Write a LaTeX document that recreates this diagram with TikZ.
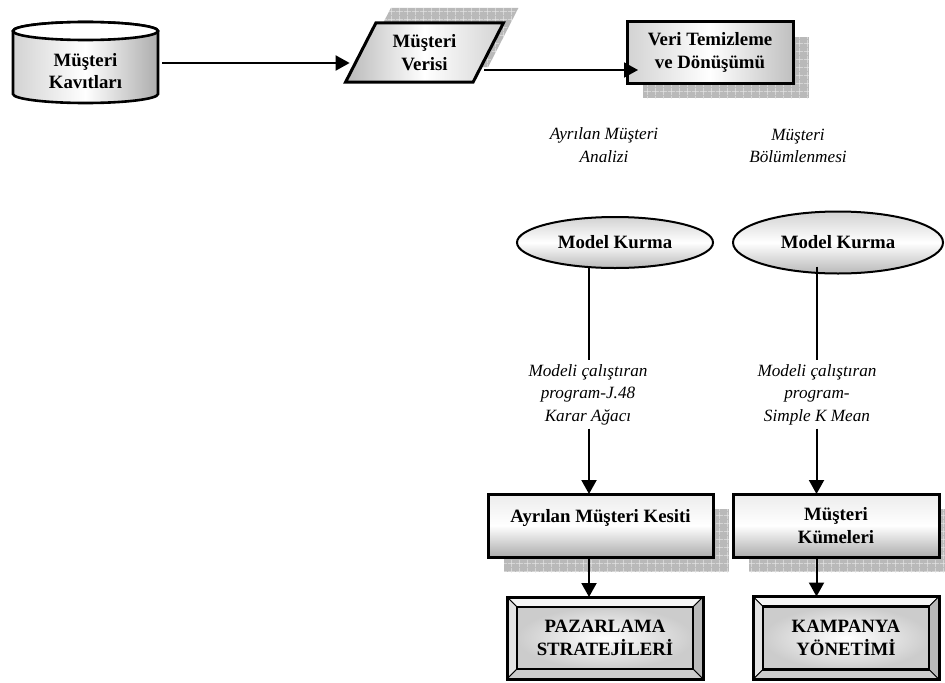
\documentclass[tikz,border=0pt]{standalone}
\usepackage{fontspec}
\setmainfont{Liberation Serif}
\usetikzlibrary{arrows.meta,shapes.geometric,positioning,shadows,patterns.meta,backgrounds,calc}

% bevelled frame drawn behind a named node
\newcommand{\bevelframe}[1]{%
  \begin{scope}[on background layer, line width=.8pt]
    \filldraw[fill=gray!8] (#1.north west) -- (#1.north east) -- ([shift={(-10,-10)}]#1.north east) -- ([shift={(10,-10)}]#1.north west) -- cycle;
    \filldraw[fill=gray!22] (#1.north west) -- ([shift={(10,-10)}]#1.north west) -- ([shift={(10,10)}]#1.south west) -- (#1.south west) -- cycle;
    \filldraw[fill=gray!55] (#1.north east) -- ([shift={(-10,-10)}]#1.north east) -- ([shift={(-10,10)}]#1.south east) -- (#1.south east) -- cycle;
    \filldraw[fill=gray!40] (#1.south west) -- ([shift={(10,10)}]#1.south west) -- ([shift={(-10,10)}]#1.south east) -- (#1.south east) -- cycle;
    \draw[line width=1.2pt, inner color=white, outer color=gray!40] ([shift={(10,-10)}]#1.north west) rectangle ([shift={(-10,10)}]#1.south east);
  \end{scope}}

\begin{document}
\begin{tikzpicture}[
  x=0.5pt, y=0.5pt,
  line width=1pt,
  >={Triangle[length=7pt,width=7.5pt]},
  every node/.style={outer sep=0pt, align=center},
  bold/.style={font=\fontsize{9.4}{11.2}\selectfont\bfseries},
  note/.style={font=\fontsize{8.6}{11.2}\selectfont\itshape, inner sep=2pt},
  grid shadow/.style 2 args={
    drop shadow={shadow xshift=#1, shadow yshift=#2, opacity=1, fill=gray!55},
    drop shadow={shadow xshift=#1, shadow yshift=#2, opacity=1,
      pattern={Hatch[angle=0,distance=4pt,line width=.35pt]}, pattern color=gray!20}},
  box/.style={bold, draw, line width=1.5pt, rectangle, grid shadow={8pt}{-7.5pt},
    top color=gray!15, bottom color=gray!65, middle color=white},
  oval/.style={bold, ellipse, draw, top color=gray!35, bottom color=gray!55, middle color=white},
  frame/.style={bold, draw, line width=1.5pt},
  ]
  \useasboundingbox (0,0) rectangle (945,682);

  \node[bold, minimum width=72.5pt, minimum height=32pt] (kayit) at (85.5,611) {Müşteri\\Kavıtları};
  \node[bold, trapezium, trapezium left angle=64, trapezium right angle=116, trapezium stretches=true,
    minimum width=79pt, minimum height=29.5pt, draw, line width=1.5pt,
    left color=gray!55, right color=gray!35, middle color=white, grid shadow={7.5pt}{7.5pt}] (veri) at (424.5,629.5) {Müşteri\\Verisi};
  \node[box, minimum width=83pt, minimum height=30.5pt,
    left color=gray!35, right color=gray!50, middle color=white] (temiz) at (710,629.5) {Veri Temizleme\\ve Dönüşümü};

  \node[note] (analiz) at (604,537) {Ayrılan Müşteri\\Analizi};
  \node[note] (bolum) at (798,536) {Müşteri\\Bölümlenmesi};

  \node[oval, minimum width=98pt, minimum height=25.5pt] (model1) at (615,439.5) {Model Kurma};
  \node[oval, minimum width=105pt, minimum height=31pt, right=10pt of model1] (model2) {Model Kurma};

  \coordinate (colA) at (589,0);
  \coordinate (colB) at (816.5,0);

  \node[note] (prog1) at (588,287.5) {Modeli çalıştıran\\program-J.48\\Karar Ağacı};
  \node[note] (prog2) at (817,287.5) {Modeli çalıştıran\\program-\\Simple K Mean};

  \node[box, minimum width=112.5pt, minimum height=31.5pt, text depth=10pt] (kesit) at (600.5,156.5) {Ayrılan Müşteri Kesiti};
  \node[box, minimum width=103pt, minimum height=31.5pt, right=10pt of kesit] (kume) {Müşteri\\Kümeleri};

  \node[frame, minimum width=98pt, minimum height=41pt] (paz) at (605,44) {PAZARLAMA\\STRATEJİLERİ};
  \node[frame, minimum width=93pt, minimum height=41.5pt, right=25pt of paz] (kamp) {KAMPANYA\\YÖNETİMİ};

  % database cylinder behind its text
  \begin{scope}[on background layer]
    \draw[line width=1.3pt, left color=gray!35, right color=gray!65, middle color=white]
      ([yshift=4pt]kayit.north west) -- ([yshift=4.5pt]kayit.south west)
      arc[start angle=180, end angle=360, x radius=72.5, y radius=9]
      -- ([yshift=4pt]kayit.north east)
      arc[start angle=0, end angle=180, x radius=72.5, y radius=9] -- cycle;
    \draw[line width=1.3pt, fill=white] ([yshift=4pt]kayit.north) ellipse [x radius=72.5, y radius=9];
  \end{scope}
  \bevelframe{paz}
  \bevelframe{kamp}

  \draw [->] ([shift={(4,8)}]kayit.east) -- ([shift={(4,8)}]kayit.east -| veri.bottom left corner);
  \draw [->] ([shift={(11,12)}]veri.bottom right corner) -- ([shift={(11,12)}]veri.bottom right corner -| temiz.west);
  \draw (model1.south -| colA) -- (prog1.north -| colA);
  \draw ($(model2.south -| colB)+(0,7)$) -- (prog2.north -| colB);
  \draw [->] (prog1.south -| colA) -- (kesit.north -| colA);
  \draw [->] (prog2.south -| colB) -- (kume.north -| colB);
  \draw [->] (kesit.south -| colA) -- (paz.north -| colA);
  \draw [->] (kume.south -| colB) -- (kamp.north -| colB);
\end{tikzpicture}
\end{document}
